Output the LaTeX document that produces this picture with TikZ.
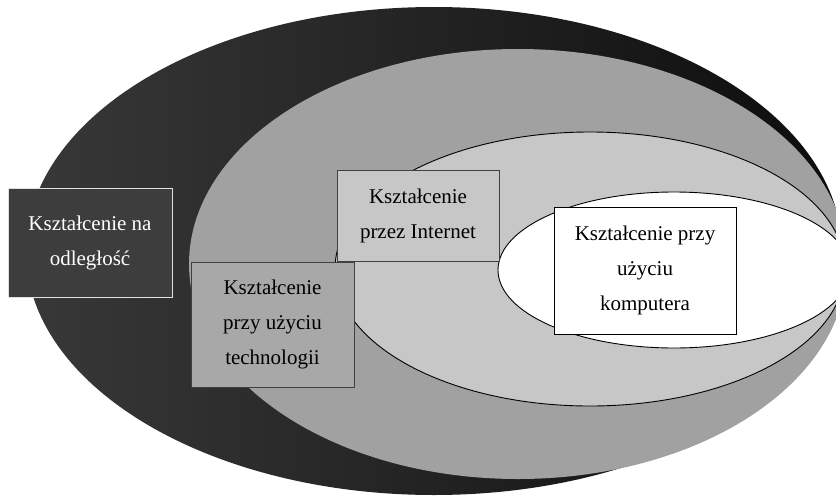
\documentclass[tikz,border=0pt]{standalone}
\usepackage{fontspec}
\setmainfont{Liberation Serif}
\begin{document}
\begin{tikzpicture}[x=1pt,y=-1pt,
    box/.style={draw=black!75, line width=0.8pt, align=center, inner sep=0pt,
      font=\fontsize{21}{35}\selectfont},
    ring/.style={draw=black, line width=0.9pt}]
  \useasboundingbox (0,0) rectangle (836,496);
  \clip (0,0) rectangle (836,496);

  % ELLIPSES
  \shade[left color=black!78, right color=black!95]
    (434,251) ellipse [x radius=408pt, y radius=244pt];
  \fill[black!37] (518,264) ellipse [x radius=329pt, y radius=215pt];
  \draw[ring, fill=black!22] (590,269) ellipse [x radius=255pt, y radius=137pt];
  \draw[ring, fill=white] (674,270) ellipse [x radius=176pt, y radius=78pt];

  % BOXES
  \node[box, fill=black!76, draw=black!12, text=white,
    minimum width=164pt, minimum height=109pt] (kna) at (90,242.5)
    {Kształcenie na\\odległość};
  \node[box, fill=black!22, minimum width=162pt, minimum height=91pt]
    (kint) at (418,215.5) {Kształcenie\\przez Internet};
  \node[box, fill=black!34, minimum width=163pt, minimum height=125pt]
    (ktech) at (272.5,324.5) {Kształcenie\\przy użyciu\\technologii};
  \node[box, fill=white, draw=black, minimum width=182pt, minimum height=127pt]
    (kkomp) at (645,270.5) {Kształcenie przy\\użyciu\\komputera};

\end{tikzpicture}
\end{document}
